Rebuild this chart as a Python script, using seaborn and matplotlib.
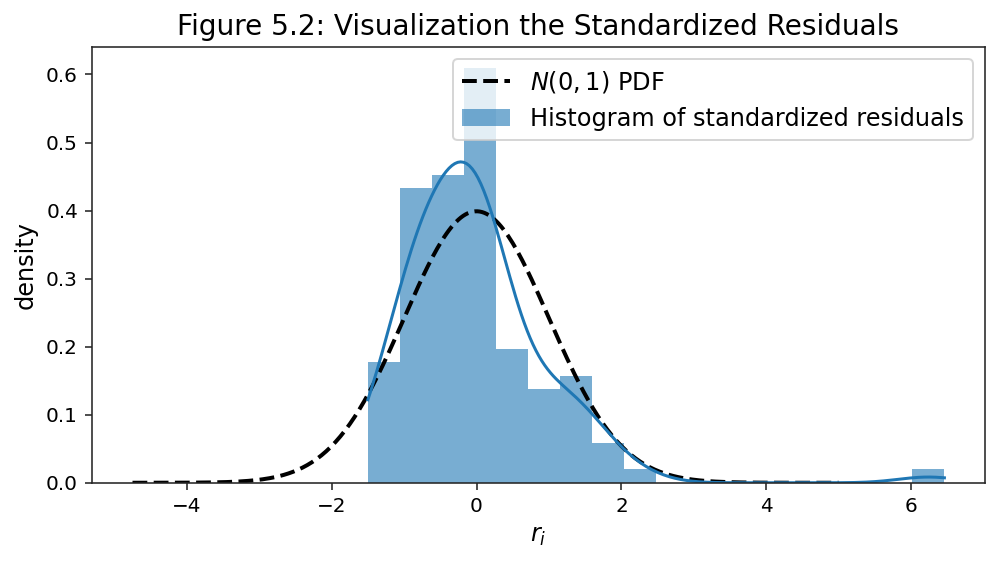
import numpy as np
import pandas as pd
import matplotlib
matplotlib.use("Agg")
import matplotlib.pyplot as plt
import seaborn as sns

# histogram: 18 equal bins from the min to the max residual
bin_edges = np.linspace(-1.50, 6.46, 19)
bin_counts = [9, 22, 23, 31, 10, 7, 8, 3, 1, 0, 0, 0, 0, 0, 0, 0, 0, 1]

# N(0,1) reference curve range
pdf_lo, pdf_hi = -4.75, 5.0

#rebuild a residual sample, one value per count, at the centre of its bin
bin_centers = (bin_edges[:-1] + bin_edges[1:]) / 2
residuals = pd.Series(np.repeat(bin_centers, bin_counts), name="r")

x_pdf = np.linspace(pdf_lo, pdf_hi, 300)
y_pdf = np.exp(-x_pdf ** 2 / 2) / np.sqrt(2 * np.pi)

#kde is cut at the data range, stretch it half a bin so it spans the bars
bw_adjust = 1.08
n = len(residuals)
bw = residuals.std() * n ** (-1 / 5) * bw_adjust
half_bin = (bin_edges[1] - bin_edges[0]) / 2

plt.rcParams["axes.edgecolor"] = ".15"
plt.rcParams["xtick.color"] = ".15"
plt.rcParams["ytick.color"] = ".15"
plt.rcParams["xtick.labelcolor"] = "black"
plt.rcParams["ytick.labelcolor"] = "black"

fig, ax = plt.subplots(figsize=(999 / 144, 562 / 144), dpi=144)
fig.subplots_adjust(left=0.092, right=0.986, top=0.916, bottom=0.141)

ax.plot(x_pdf, y_pdf, "k--", linewidth=2, label=r"$N(0,1)$ PDF")
sns.histplot(x=residuals, bins=bin_edges, stat="density", kde=True,
             kde_kws={"cut": half_bin / bw, "bw_adjust": bw_adjust},
             alpha=0.6, linewidth=0, color="C0",
             label="Histogram of standardized residuals", ax=ax)

ax.set_title("Figure 5.2: Visualization the Standardized Residuals", fontsize=14)
ax.set_xlabel(r"$r_i$", fontsize=12)
ax.set_ylabel("density", fontsize=12)
ax.legend(loc="upper right", fontsize=12)

fig.savefig("out.png", dpi=144)
